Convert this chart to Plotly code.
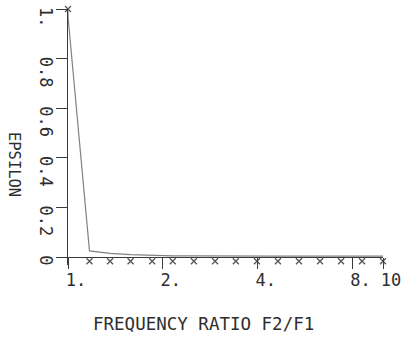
import plotly.graph_objects as go

# Data
line_ratio = [1.0, 1.0, 1.17, 1.36, 1.58, 1.85, 2.15, 2.51, 2.93, 3.41, 3.98, 4.64, 5.41, 6.31, 7.36, 8.58, 10.0]
line_eps = [1.0, 0.97, 0.025, 0.015, 0.010, 0.007, 0.005, 0.005, 0.004, 0.004, 0.004, 0.004, 0.004, 0.004, 0.004, 0.004, 0.004]

mark_ratio = [1.0, 1.17, 1.36, 1.58, 1.85, 2.15, 2.51, 2.93, 3.41, 3.98, 4.64, 5.41, 6.31, 7.36, 8.58, 10.0]
mark_eps = [1.0, -0.017, -0.017, -0.017, -0.017, -0.017, -0.017, -0.017, -0.017, -0.017, -0.017, -0.017, -0.017, -0.017, -0.017, -0.017]

x_tickvals = [1, 2, 4, 8, 10]
x_ticktext = ["1.", "2.", "4.", "8.", "10"]
y_tickvals = [0, 0.2, 0.4, 0.6, 0.8, 1.0]
y_ticktext = ["0\u00a0\u00a0", "0.2", "0.4", "0.6", "0.8", "1.\u00a0"]

FONT = "DejaVu Sans Mono"
INK = "#2e2e2e"
AXIS = "#3a3a3a"
Y_MIN = -0.032

fig = go.Figure()
fig.add_trace(go.Scatter(
    x=line_ratio, y=line_eps, mode="lines",
    line=dict(color="#808080", width=1.2), showlegend=False,
))
fig.add_trace(go.Scatter(
    x=mark_ratio, y=mark_eps, mode="markers",
    marker=dict(symbol="x-thin-open", size=6, color="#555555",
                line=dict(color="#555555", width=1.3)),
    cliponaxis=False, showlegend=False,
))

fig.update_layout(
    width=414, height=340, autosize=False,
    margin=dict(l=68, r=31, t=7, b=75),
    paper_bgcolor="white", plot_bgcolor="white",
    font=dict(family=FONT, color=INK, size=17),
    xaxis=dict(
        type="log", range=[0, 1],
        anchor="free", position=-Y_MIN / (1 - Y_MIN),
        tickmode="array", tickvals=x_tickvals, ticktext=x_ticktext,
        ticks="outside", ticklen=11, tickwidth=1, tickcolor=AXIS,
        showline=True, linecolor=AXIS, linewidth=1,
        showgrid=False, zeroline=False,
        tickfont=dict(family=FONT, size=17, color=INK),
        ticklabelshift=8, ticklabelstandoff=-3,
    ),
    yaxis=dict(
        range=[Y_MIN, 1],
        tickmode="array", tickvals=y_tickvals, ticktext=y_ticktext,
        tickangle=90,
        ticks="outside", ticklen=11, tickwidth=1, tickcolor=AXIS,
        showline=True, linecolor=AXIS, linewidth=1,
        showgrid=False, zeroline=False,
        tickfont=dict(family=FONT, size=17, color=INK),
        ticklabelshift=16, ticklabelstandoff=-4,
    ),
    annotations=[
        dict(text="EPSILON", textangle=90, xref="paper", yref="paper",
             x=0, y=0.395, xanchor="center", yanchor="middle", xshift=-54,
             showarrow=False, font=dict(family=FONT, size=15.5, color=INK)),
        dict(text="FREQUENCY RATIO F2/F1", xref="paper", yref="paper",
             x=0.43, y=-0.229, xanchor="center", yanchor="middle",
             showarrow=False, font=dict(family=FONT, size=17.5, color=INK)),
    ],
)

fig.write_html("out.html", config={"displayModeBar": False},
               post_script="document.body.style.margin='0px';")
